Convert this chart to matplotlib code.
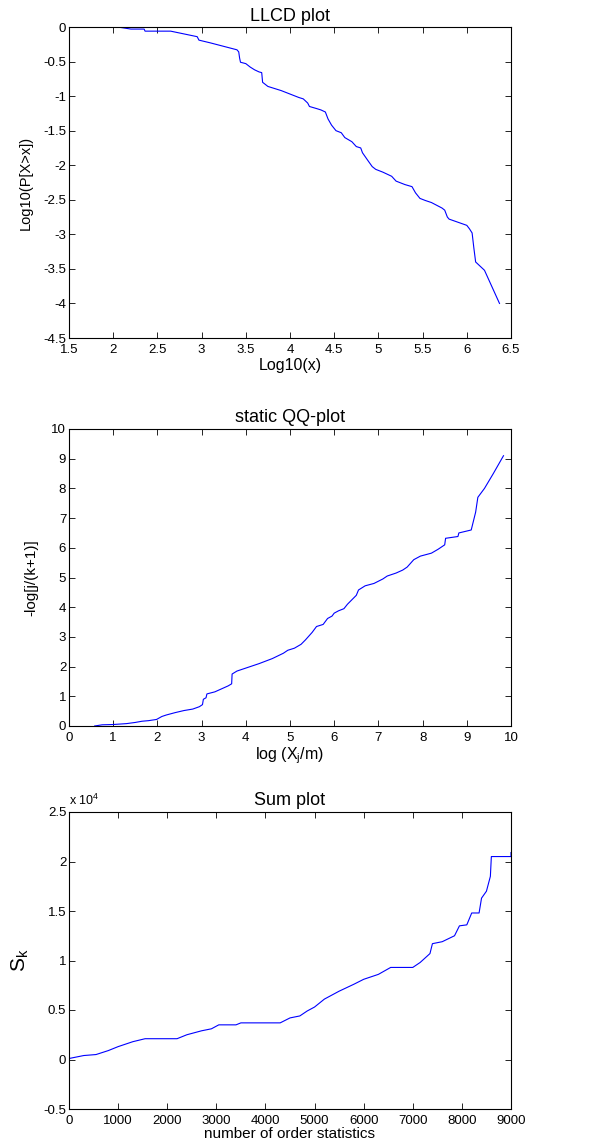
import matplotlib
matplotlib.use('Agg')
import matplotlib.pyplot as plt

plt.rcParams['font.family'] = ['Liberation Sans', 'DejaVu Sans']

# LLCD plot
llcd_x = [1.78, 2.05, 2.1, 2.2, 2.35, 2.36, 2.65, 2.8, 2.95, 2.97, 3.1, 3.25, 3.4, 3.42, 3.43,
          3.44, 3.5, 3.55, 3.6, 3.65, 3.68, 3.69, 3.75, 3.9, 4.0, 4.1, 4.15, 4.2, 4.22, 4.3,
          4.35, 4.4, 4.43, 4.47, 4.52, 4.58, 4.62, 4.7, 4.75, 4.8, 4.82, 4.88, 4.93, 4.97,
          5.05, 5.15, 5.2, 5.3, 5.38, 5.42, 5.47, 5.53, 5.6, 5.66, 5.72, 5.75, 5.78, 5.8,
          6.0, 6.03, 6.06, 6.08, 6.1, 6.2, 6.37]
llcd_y = [0, 0, -0.01, -0.03, -0.03, -0.06, -0.06, -0.1, -0.14, -0.19, -0.23, -0.28, -0.33, -0.36, -0.45,
          -0.51, -0.53, -0.58, -0.62, -0.65, -0.66, -0.8, -0.86, -0.92, -0.97, -1.02, -1.04, -1.1, -1.15, -1.18,
          -1.2, -1.23, -1.33, -1.42, -1.5, -1.53, -1.6, -1.66, -1.73, -1.75, -1.82, -1.93, -2.02, -2.06,
          -2.1, -2.16, -2.23, -2.28, -2.31, -2.4, -2.48, -2.51, -2.54, -2.58, -2.62, -2.65, -2.75, -2.78,
          -2.87, -2.92, -2.98, -3.2, -3.4, -3.52, -4.0]

# static QQ-plot
qq_x = [0.58, 0.75, 1.0, 1.3, 1.5, 1.65, 1.8, 1.98, 2.1, 2.2, 2.4, 2.6, 2.8, 2.95, 3.02, 3.04,
        3.1, 3.12, 3.3, 3.45, 3.6, 3.68, 3.69, 3.8, 4.0, 4.3, 4.6, 4.85, 4.95, 5.1, 5.25, 5.35,
        5.5, 5.6, 5.75, 5.85, 5.95, 6.0, 6.1, 6.22, 6.3, 6.4, 6.5, 6.55, 6.7, 6.9, 7.1, 7.2,
        7.4, 7.55, 7.65, 7.8, 7.95, 8.2, 8.35, 8.5, 8.52, 8.8, 8.82, 9.1, 9.15, 9.2, 9.25,
        9.4, 9.6, 9.83]
qq_y = [0, 0.04, 0.05, 0.08, 0.12, 0.16, 0.18, 0.22, 0.32, 0.37, 0.45, 0.52, 0.57, 0.65, 0.72, 0.9,
        0.95, 1.08, 1.15, 1.25, 1.35, 1.42, 1.75, 1.85, 1.95, 2.1, 2.27, 2.45, 2.55, 2.62, 2.75, 2.9,
        3.15, 3.35, 3.42, 3.62, 3.7, 3.8, 3.88, 3.95, 4.1, 4.25, 4.4, 4.58, 4.72, 4.8, 4.95, 5.05,
        5.15, 5.25, 5.35, 5.6, 5.72, 5.82, 5.95, 6.1, 6.32, 6.38, 6.5, 6.6, 6.9, 7.2, 7.7,
        8.0, 8.5, 9.1]

# Sum plot (values in units of 10^4)
sum_x = [0, 100, 300, 550, 800, 1000, 1300, 1550, 2200, 2400, 2700, 2900, 3050, 3400, 3500,
         4300, 4500, 4700, 4850, 5000, 5200, 5500, 5800, 6000, 6300, 6550, 7000, 7150, 7350,
         7400, 7600, 7850, 7950, 8100, 8150, 8200, 8350, 8400, 8500, 8580, 8600, 9000, 9000]
sum_y = [0.01, 0.02, 0.04, 0.05, 0.09, 0.13, 0.18, 0.21, 0.21, 0.25, 0.29, 0.31, 0.35, 0.35, 0.37,
         0.37, 0.42, 0.44, 0.49, 0.53, 0.61, 0.69, 0.76, 0.81, 0.86, 0.93, 0.93, 0.98, 1.07,
         1.17, 1.19, 1.25, 1.35, 1.36, 1.42, 1.48, 1.48, 1.63, 1.7, 1.85, 2.05, 2.05, 2.09]

fig = plt.figure(figsize=(5.94, 11.46), dpi=100)
W, H = 594, 1146

def make_ax(top, bottom):
    ax = fig.add_axes([69 / W, 1 - bottom / H, (511 - 69) / W, (bottom - top) / H])
    ax.tick_params(direction='in', top=True, right=True, labelsize=9.5, length=4, width=0.6, pad=2)
    ax.tick_params(axis='x', pad=4.5)
    for s in ax.spines.values():
        s.set_linewidth(0.8)
    return ax

ax1 = make_ax(27, 338)
ax1.plot(llcd_x, llcd_y, color='blue', lw=0.8)
ax1.set_xlim(1.5, 6.5)
ax1.set_ylim(-4.5, 0)
ax1.set_xticks([1.5, 2, 2.5, 3, 3.5, 4, 4.5, 5, 5.5, 6, 6.5])
ax1.set_xticklabels(['1.5', '2', '2.5', '3', '3.5', '4', '4.5', '5', '5.5', '6', '6.5'])
ax1.set_yticks([-4.5, -4, -3.5, -3, -2.5, -2, -1.5, -1, -0.5, 0])
ax1.set_yticklabels(['-4.5', '-4', '-3.5', '-3', '-2.5', '-2', '-1.5', '-1', '-0.5', '0'])
ax1.set_title('LLCD plot', fontsize=13, pad=4)
ax1.set_xlabel('Log10(x)', fontsize=11.5, labelpad=1)
ax1.set_ylabel('Log10(P[X>x])', fontsize=10.5)
ax1.yaxis.set_label_coords(-0.082, 0.5)

ax2 = make_ax(429, 726)
ax2.plot(qq_x, qq_y, color='blue', lw=0.8)
ax2.set_xlim(0, 10)
ax2.set_ylim(0, 10)
ax2.set_xticks(range(0, 11))
ax2.set_yticks(range(0, 11))
ax2.set_title('static QQ-plot', fontsize=13, pad=5)
ax2.set_xlabel('log (X$_\\mathregular{j}$/m)', fontsize=11.5, labelpad=1)
ax2.set_ylabel('-log[j/(k+1)]', fontsize=11)
ax2.yaxis.set_label_coords(-0.07, 0.5)

ax3 = make_ax(812, 1109)
ax3.plot(sum_x, sum_y, color='blue', lw=0.8)
ax3.set_xlim(0, 9000)
ax3.set_ylim(-0.5, 2.5)
ax3.set_xticks(range(0, 9001, 1000))
ax3.set_yticks([-0.5, 0, 0.5, 1, 1.5, 2, 2.5])
ax3.set_yticklabels(['-0.5', '0', '0.5', '1', '1.5', '2', '2.5'])
ax3.set_title('Sum plot', fontsize=13, pad=5)
ax3.set_xlabel('number of order statistics', fontsize=11, labelpad=0)
ax3.set_ylabel('S$_\\mathregular{k}$', fontsize=15)
ax3.yaxis.set_label_coords(-0.085, 0.5)
ax3.text(0, 1.012, 'x 10$^\\mathregular{4}$', transform=ax3.transAxes, fontsize=9, va='bottom')

fig.savefig('out.png', dpi=100)
